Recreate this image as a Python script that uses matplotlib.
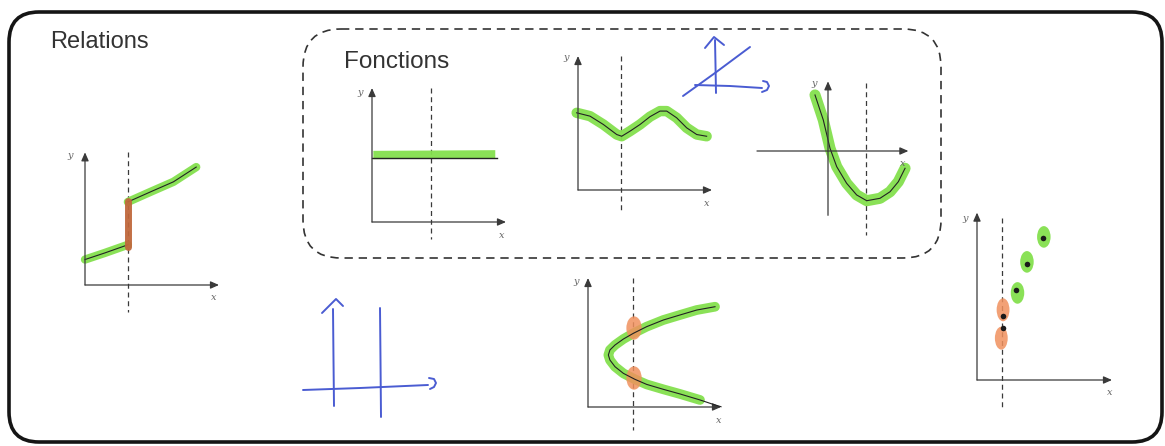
import matplotlib
matplotlib.use("Agg")
import matplotlib.pyplot as plt
from matplotlib.patches import FancyBboxPatch, Ellipse

W, H = 1165, 446

# ---- panel titles ----
title_relations = "Relations"
title_fonctions = "Fonctions"

# ---- graph 1: relation with a vertical jump ----
g1_low_x = [0.0, 1.5, 3.2]
g1_low_y = [1.9, 2.4, 3.0]
g1_high_x = [3.2, 5.0, 6.6, 8.3]
g1_high_y = [6.2, 7.0, 7.7, 8.8]
g1_jump_x = [3.2, 3.2]
g1_jump_y = [2.8, 6.3]
g1_dash_x = 3.2

# ---- graph 2: constant function ----
g2_x = [0.0, 9.3]
g2_y = [4.75, 4.75]
g2_band_y = [5.0, 5.05]
g2_band_x = [0.1, 9.2]
g2_dash_x = 4.4

# ---- graph 3: wave ----
g3_x = [-0.10, 0.90, 1.89, 2.89, 3.26, 3.88, 4.63, 5.37, 6.12, 6.62,
        7.36, 8.11, 8.86, 9.60]
g3_y = [5.76, 5.51, 4.89, 4.14, 4.01, 4.39, 4.89, 5.47, 5.89, 5.89,
        5.39, 4.64, 4.14, 4.01]
g3_dash_x = 3.2

# ---- graph 4: parabola crossing the axes ----
g4_x = [-0.97, -0.35, 0.15, 0.65, 1.39, 2.14, 2.89, 3.88, 4.63, 5.25, 5.75]
g4_y = [4.18, 2.31, 0.20, -1.17, -2.41, -3.28, -3.71, -3.53, -3.04,
        -2.29, -1.29]
g4_dash_x = 2.84

# ---- graph 5: sideways parabola (not a function) ----
g5_x = [9.55, 8.17, 6.92, 5.66, 4.41, 3.41, 2.66, 2.03, 1.65, 1.53, 1.65,
        2.03, 2.66, 3.53, 4.41, 5.66, 6.92, 8.42]
g5_y = [7.54, 7.29, 6.92, 6.54, 6.04, 5.54, 5.11, 4.66, 4.29, 3.91, 3.53,
        3.03, 2.53, 2.08, 1.70, 1.33, 0.98, 0.53]
g5_tail_x = [8.42, 9.32, 10.0]
g5_tail_y = [0.53, 0.23, 0.02]
g5_hits_x = [3.46, 3.46]
g5_hits_y = [5.94, 2.18]
g5_dash_x = 3.4

# ---- graph 6: scatter of points ----
g6_x = [4.89, 3.70, 2.89, 1.93, 1.93]
g6_y = [10.5, 8.59, 6.67, 4.74, 3.85]
g6_green_x = [4.95, 3.70, 3.0]
g6_green_y = [10.6, 8.75, 6.45]
g6_orange_x = [1.93, 1.80]
g6_orange_y = [5.2, 3.1]
g6_dash_x = 1.85

# ---- hand-drawn pen strokes ----
pen_h_left_x = [333, 333.5, 334]
pen_h_left_y = [309, 360, 406]
pen_h_caret_x = [322, 336, 343]
pen_h_caret_y = [313, 299, 306]
pen_h_right_x = [380, 380.5, 381]
pen_h_right_y = [308, 360, 417]
pen_h_bar_x = [303, 360, 428]
pen_h_bar_y = [390, 388, 385]
pen_h_hook_x = [429, 434, 436, 434, 430]
pen_h_hook_y = [378, 379, 383, 387, 389]

pen_t_vert_x = [715, 715.5, 716]
pen_t_vert_y = [40, 65, 93]
pen_t_caret_x = [705, 714, 724]
pen_t_caret_y = [48, 37, 45]
pen_t_diag_x = [683, 715, 750]
pen_t_diag_y = [96, 73, 47]
pen_t_bar_x = [695, 730, 762]
pen_t_bar_y = [85, 86, 88]
pen_t_hook_x = [763, 767, 769, 767, 762]
pen_t_hook_y = [81, 82, 86, 90, 92]

GREEN = "#84e04e"
ORANGE = "#f0915e"
BROWN = "#c0683c"
PEN = "#4a5cd2"
AXIS = "#3a3a3a"

fig = plt.figure(figsize=(W / 100, H / 100), dpi=100)
bg = fig.add_axes([0, 0, 1, 1])
bg.set_xlim(0, W)
bg.set_ylim(H, 0)
bg.axis("off")

# outer frame
bg.add_patch(FancyBboxPatch((9, 12), 1153, 430,
                            boxstyle="round,pad=0,rounding_size=30",
                            fc="none", ec="#151515", lw=2.6))
# dashed group box
bg.add_patch(FancyBboxPatch((303, 29), 638, 229,
                            boxstyle="round,pad=0,rounding_size=38",
                            fc="none", ec="#333333", lw=1.2,
                            ls=(0, (5, 3.5))))

bg.text(50, 48, title_relations, fontsize=17, family="Liberation Sans",
        color="#333333", va="baseline", ha="left")
bg.text(344, 68, title_fonctions, fontsize=17.5, family="Liberation Sans",
        color="#333333", va="baseline", ha="left")

# pen strokes
for xs, ys in [(pen_h_left_x, pen_h_left_y), (pen_h_caret_x, pen_h_caret_y),
               (pen_h_right_x, pen_h_right_y), (pen_h_bar_x, pen_h_bar_y),
               (pen_h_hook_x, pen_h_hook_y),
               (pen_t_vert_x, pen_t_vert_y), (pen_t_caret_x, pen_t_caret_y),
               (pen_t_diag_x, pen_t_diag_y), (pen_t_bar_x, pen_t_bar_y),
               (pen_t_hook_x, pen_t_hook_y)]:
    bg.plot(xs, ys, color=PEN, lw=1.4, solid_capstyle="round",
            solid_joinstyle="round")


def mini(origin, xr, yr, scale=13.4):
    """Small coordinate plane placed with its origin at a pixel position."""
    ox, oy = origin
    left = ox + xr[0] * scale
    right = ox + xr[1] * scale
    top = oy - yr[1] * scale
    bottom = oy - yr[0] * scale
    ax = fig.add_axes([left / W, 1 - bottom / H, (right - left) / W,
                       (bottom - top) / H])
    ax.set_xlim(*xr)
    ax.set_ylim(*yr)
    ax.axis("off")
    return ax


def axes_arrows(ax, x0, x1, y0, y1, xlab, ylab):
    kw = dict(arrowstyle="-|>,head_length=0.5,head_width=0.22", lw=0.9,
              color=AXIS, shrinkA=0, shrinkB=0, mutation_scale=10)
    ax.annotate("", xy=(x1, 0), xytext=(x0, 0), arrowprops=kw)
    ax.annotate("", xy=(0, y1), xytext=(0, y0), arrowprops=kw)
    ax.text(xlab[0], xlab[1], "x", fontsize=7, family="DejaVu Serif",
            style="italic", color="#666666", ha="center", va="center")
    ax.text(ylab[0], ylab[1], "y", fontsize=7, family="DejaVu Serif",
            style="italic", color="#666666", ha="center", va="center")


def dashed(ax, x, y0, y1):
    ax.plot([x, x], [y0, y1], color="#3a3a3a", lw=0.9, ls=(0, (4, 3)))


def curve(ax, xs, ys, glw=6.5):
    ax.plot(xs, ys, color=GREEN, lw=glw, solid_capstyle="round",
            solid_joinstyle="round", alpha=0.95)
    ax.plot(xs, ys, color="#222222", lw=0.8, solid_joinstyle="round")


# graph 1
a1 = mini((85, 285), (-1.8, 10.8), (-2.2, 10.3))
axes_arrows(a1, 0, 10, 0, 9.9, (9.6, -0.9), (-1.1, 9.7))
dashed(a1, g1_dash_x, 9.9, -2.0)
curve(a1, g1_low_x, g1_low_y, 6)
curve(a1, g1_high_x, g1_high_y, 6)
a1.plot(g1_jump_x, g1_jump_y, color=BROWN, lw=5, solid_capstyle="round",
        alpha=0.95)

# graph 2
a2 = mini((372, 222), (-1.5, 10.6), (-1.6, 10.3))
axes_arrows(a2, 0, 10, 0, 10, (9.7, -1.0), (-0.9, 9.7))
dashed(a2, g2_dash_x, 10, -1.3)
a2.plot(g2_band_x, g2_band_y, color=GREEN, lw=6, solid_capstyle="butt",
        alpha=0.95)
a2.plot(g2_x, g2_y, color="#222222", lw=1.0)

# graph 3
a3 = mini((578, 190), (-1.5, 10.6), (-1.8, 10.3))
axes_arrows(a3, 0, 10, 0, 10, (9.6, -1.0), (-0.9, 9.9))
dashed(a3, g3_dash_x, 10, -1.5)
curve(a3, g3_x, g3_y, 7.5)

# graph 4
a4 = mini((828, 151), (-5.6, 6.5), (-6.5, 5.6))
axes_arrows(a4, -5.3, 6.0, -4.8, 5.2, (5.6, -0.9), (-1.0, 5.0))
dashed(a4, g4_dash_x, 5.1, -6.3)
curve(a4, g4_x, g4_y, 8)

# graph 5
a5 = mini((588, 407), (-1.6, 10.6), (-1.9, 10.0), scale=13.3)
axes_arrows(a5, 0, 10, 0, 9.7, (9.8, -1.0), (-0.9, 9.4))
dashed(a5, g5_dash_x, 9.7, -1.7)
a5.plot(g5_x, g5_y, color=GREEN, lw=7, solid_capstyle="round",
        solid_joinstyle="round", alpha=0.95, zorder=2)
for hx, hy in zip(g5_hits_x, g5_hits_y):
    a5.add_patch(Ellipse((hx, hy), 1.15, 1.75, color=ORANGE, alpha=0.85,
                         lw=0, zorder=3))
a5.plot(g5_x + g5_tail_x[1:], g5_y + g5_tail_y[1:], color="#222222", lw=0.8,
        solid_joinstyle="round", zorder=4)

# graph 6
a6 = mini((977, 380), (-1.6, 10.6), (-2.2, 12.6), scale=13.5)
axes_arrows(a6, 0, 10, 0, 12.4, (9.8, -0.9), (-0.9, 12.0))
dashed(a6, g6_dash_x, 12.0, -2.0)
for gx, gy in zip(g6_green_x, g6_green_y):
    a6.add_patch(Ellipse((gx, gy), 1.0, 1.6, color=GREEN, alpha=0.95, lw=0,
                         zorder=3))
for ox_, oy_ in zip(g6_orange_x, g6_orange_y):
    a6.add_patch(Ellipse((ox_, oy_), 0.95, 1.7, color=ORANGE, alpha=0.85,
                         lw=0, zorder=3))
a6.scatter(g6_x, g6_y, s=16, color="#1a1a1a", zorder=5, lw=0)

fig.savefig("out.png", dpi=100, facecolor="white")
